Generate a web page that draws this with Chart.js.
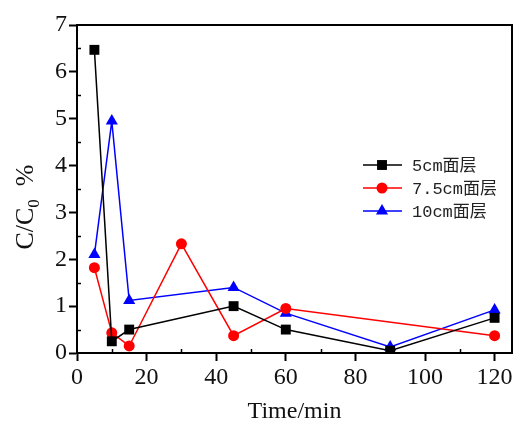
<!DOCTYPE html>
<html lang="zh">
<head>
    <meta charset="UTF-8">
    <title>C/C0 vs Time</title>
    <script src="https://cdn.jsdelivr.net/npm/chart.js"></script>
    <style>
        body {
            margin: 0;
            background: #fff;
        }
        #wrap {
            width: 519px;
            height: 426px;
        }
    </style>
</head>
<body>
    <div id="wrap"><canvas id="chart"></canvas></div>

    <script>
        // data
        const seriesNames = ['5cm面层', '7.5cm面层', '10cm面层'];
        const time5 = [5, 10, 15, 45, 60, 90, 120];
        const val5 = [6.47, 0.25, 0.5, 1.0, 0.5, 0.05, 0.75];
        const time75 = [5, 10, 15, 30, 45, 60, 120];
        const val75 = [1.82, 0.43, 0.15, 2.33, 0.37, 0.95, 0.37];
        const time10 = [5, 10, 15, 45, 60, 90, 120];
        const val10 = [2.1, 4.95, 1.12, 1.4, 0.85, 0.13, 0.92];

        const xTicks = [0, 20, 40, 60, 80, 100, 120];
        const yTicks = [0, 1, 2, 3, 4, 5, 6, 7];
        const xMinor = [10, 30, 50, 70, 90, 110];
        const yMinor = [0.5, 1.5, 2.5, 3.5, 4.5, 5.5, 6.5];

        const SERIF = '"Liberation Serif", "Times New Roman", Tinos, Times, serif';

        const toPoints = (xs, ys) => xs.map((x, i) => ({ x: x, y: ys[i] }));

        // frame, minor ticks, y title and legend
        const decor = {
            id: 'decor',
            afterDraw(chart) {
                const ctx = chart.ctx;
                const a = chart.chartArea;
                const xs = chart.scales.x, ys = chart.scales.y;
                ctx.save();
                ctx.strokeStyle = '#000';
                ctx.lineWidth = 2;
                ctx.strokeRect(a.left, a.top, a.right - a.left, a.bottom - a.top);

                ctx.lineWidth = 1.5;
                ctx.beginPath();
                xMinor.forEach(v => {
                    const px = Math.round(xs.getPixelForValue(v)) + 0.5;
                    ctx.moveTo(px, a.bottom);
                    ctx.lineTo(px, a.bottom - 4);
                });
                yMinor.forEach(v => {
                    const py = Math.round(ys.getPixelForValue(v)) + 0.5;
                    ctx.moveTo(a.left, py);
                    ctx.lineTo(a.left + 4, py);
                });
                ctx.stroke();

                // y axis title with subscript
                ctx.fillStyle = '#111';
                ctx.translate(33, 207);
                ctx.rotate(-Math.PI / 2);
                ctx.textBaseline = 'alphabetic';
                const big = '26px ' + SERIF, small = '17px ' + SERIF;
                ctx.font = big;
                const w1 = ctx.measureText('C/C').width;
                const w3 = ctx.measureText('  %').width;
                ctx.font = small;
                const w2 = ctx.measureText('0').width;
                const x0 = -(w1 + w2 + w3) / 2;
                ctx.font = big;
                ctx.fillText('C/C', x0, 0);
                ctx.fillText('  %', x0 + w1 + w2, 0);
                ctx.font = small;
                ctx.fillText('0', x0 + w1, 6);
                ctx.restore();

                // legend inside plot
                ctx.save();
                const rows = [165, 188, 211];
                chart.data.datasets.forEach((ds, i) => {
                    const y = rows[i];
                    ctx.strokeStyle = ds.borderColor;
                    ctx.lineWidth = 1.5;
                    ctx.beginPath();
                    ctx.moveTo(363, y);
                    ctx.lineTo(402, y);
                    ctx.stroke();
                    ctx.fillStyle = ds.backgroundColor;
                    Chart.helpers.drawPoint(ctx, {
                        pointStyle: ds.pointStyle,
                        radius: ds.pointRadius,
                        borderWidth: 0
                    }, 382, y);
                    ctx.fillStyle = '#222';
                    ctx.font = '17px "Liberation Mono", "Noto Sans CJK SC"';
                    ctx.textBaseline = 'middle';
                    ctx.fillText(ds.label, 412, y + 1);
                });
                ctx.restore();
            }
        };

        const ctx = document.getElementById('chart').getContext('2d');
        new Chart(ctx, {
            type: 'line',
            data: {
                datasets: [
                    {
                        label: seriesNames[0],
                        data: toPoints(time5, val5),
                        borderColor: '#000000',
                        backgroundColor: '#000000',
                        pointStyle: 'rect',
                        pointRadius: 7,
                        borderWidth: 1.5
                    },
                    {
                        label: seriesNames[1],
                        data: toPoints(time75, val75),
                        borderColor: '#ff0000',
                        backgroundColor: '#ff0000',
                        pointStyle: 'circle',
                        pointRadius: 5.5,
                        borderWidth: 1.5
                    },
                    {
                        label: seriesNames[2],
                        data: toPoints(time10, val10),
                        borderColor: '#0000ff',
                        backgroundColor: '#0000ff',
                        pointStyle: 'triangle',
                        pointRadius: 7,
                        borderWidth: 1.5
                    }
                ]
            },
            options: {
                responsive: true,
                maintainAspectRatio: false,
                animation: false,
                layout: { padding: { top: 25, right: 4, left: 0, bottom: 0 } },
                elements: {
                    line: { tension: 0 },
                    point: { pointBorderWidth: 0, hoverRadius: 7 }
                },
                plugins: {
                    legend: { display: false },
                    tooltip: { enabled: false }
                },
                scales: {
                    x: {
                        type: 'linear',
                        min: 0,
                        max: 125,
                        afterBuildTicks: s => { s.ticks = xTicks.map(v => ({ value: v })); },
                        afterFit: s => { s.height = 73; },
                        border: { color: '#000', width: 2 },
                        grid: { drawOnChartArea: false, tickLength: 8, tickWidth: 2, tickColor: '#000' },
                        ticks: {
                            color: '#111',
                            padding: 2,
                            maxRotation: 0,
                            font: { family: SERIF, size: 24 }
                        },
                        title: {
                            display: true,
                            text: 'Time/min',
                            color: '#111',
                            padding: { top: 4, bottom: 0 },
                            font: { family: SERIF, size: 24 }
                        }
                    },
                    y: {
                        min: 0,
                        max: 7,
                        afterBuildTicks: s => { s.ticks = yTicks.map(v => ({ value: v })); },
                        afterFit: s => { s.width = 77; },
                        border: { color: '#000', width: 2 },
                        grid: { drawOnChartArea: false, tickLength: 8, tickWidth: 2, tickColor: '#000' },
                        ticks: {
                            color: '#111',
                            padding: 2,
                            font: { family: SERIF, size: 24 }
                        }
                    }
                }
            },
            plugins: [decor]
        });
    </script>
</body>
</html>
